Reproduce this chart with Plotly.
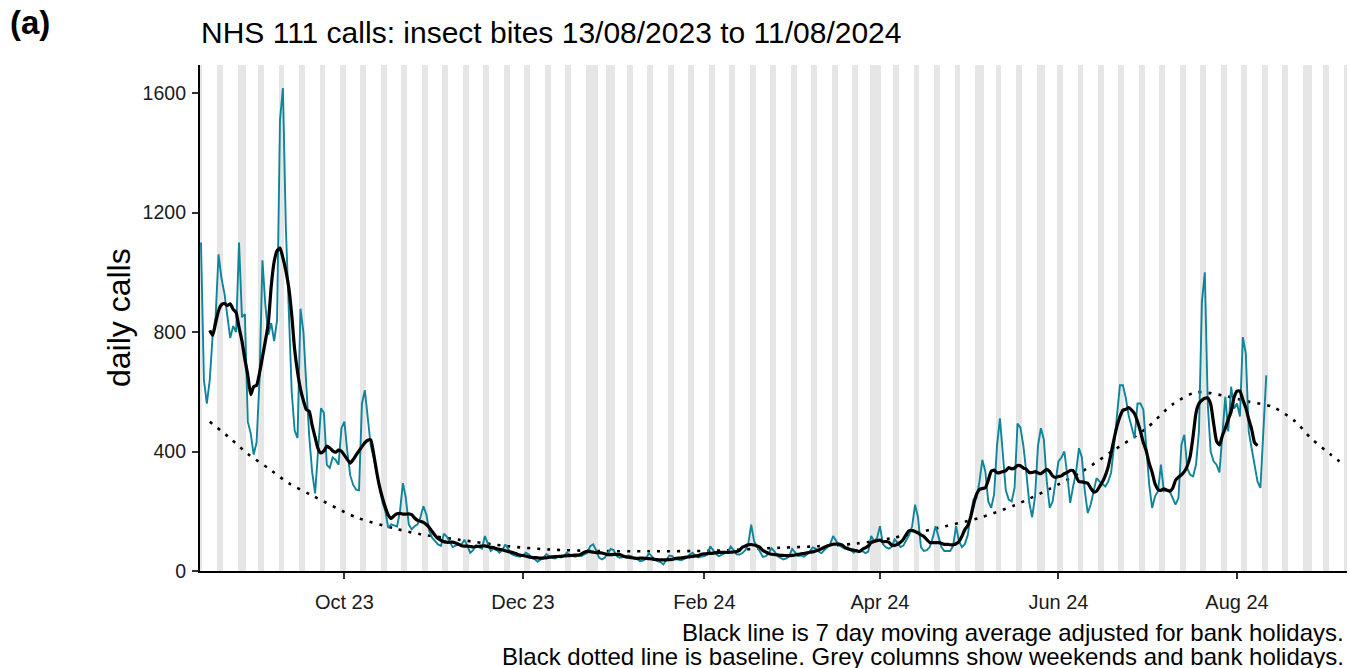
import datetime as dt
import pandas as pd
import plotly.graph_objects as go

# ---------------- data ----------------
start_date = "2023-08-13"
daily_calls = [
    1100, 640, 560, 640, 790, 850, 1060,
    980, 930, 850, 780, 820, 800, 1100,
    850, 860, 500, 460, 390, 430, 640,
    1040, 890, 790, 830, 770, 840, 1510,
    1617, 1150, 850, 600, 470, 445, 878,
    800, 620, 450, 330, 260, 400, 545,
    530, 355, 345, 380, 372, 356, 478,
    500, 400, 320, 289, 272, 270, 560,
    605, 500, 420, 380, 330, 280, 230,
    200, 144, 156, 152, 149, 200, 294,
    244, 156, 139, 150, 156, 180, 217,
    189, 135, 111, 100, 89, 84, 125,
    115, 95, 80, 85, 90, 88, 105,
    85, 61, 70, 86, 80, 75, 117,
    90, 67, 75, 70, 61, 70, 89,
    75, 57, 52, 50, 48, 52, 61,
    55, 44, 40, 31, 38, 45, 56,
    50, 44, 42, 48, 45, 50, 61,
    55, 50, 48, 52, 50, 55, 61,
    83, 89, 70, 45, 39, 45, 60,
    74, 70, 50, 44, 45, 48, 52,
    50, 44, 40, 33, 35, 40, 59,
    50, 38, 33, 30, 22, 35, 52,
    50, 40, 38, 36, 40, 45, 55,
    61, 50, 45, 48, 50, 55, 83,
    70, 56, 50, 55, 60, 62, 82,
    70, 56, 55, 60, 70, 90, 155,
    100, 82, 64, 47, 50, 60, 76,
    65, 50, 45, 39, 42, 50, 74,
    60, 50, 52, 48, 55, 65, 79,
    75, 65, 60, 70, 80, 90, 117,
    103, 86, 80, 75, 80, 70, 61,
    70, 65, 67, 60, 65, 117, 100,
    110, 150, 90, 80, 75, 80, 106,
    95, 80, 85, 106, 122, 150, 222,
    180, 80, 67, 70, 80, 110, 150,
    110, 80, 67, 67, 67, 84, 150,
    100, 80, 90, 120, 190, 240, 244,
    300, 372, 333, 233, 211, 256, 420,
    511, 400, 270, 239, 233, 278, 494,
    480, 420, 330, 230, 180, 250, 420,
    478, 440, 300, 211, 233, 300, 367,
    380, 400, 322, 228, 283, 330, 411,
    380, 267, 194, 222, 270, 311, 300,
    290, 283, 300, 330, 422, 520, 622,
    622, 580, 520, 480, 444, 561, 561,
    540, 400, 289, 211, 250, 267, 356,
    267, 272, 267, 244, 222, 244, 422,
    456, 344, 322, 317, 356, 467, 900,
    1000, 560, 400, 367, 356, 330, 450,
    583, 467, 617, 544, 561, 517, 783,
    728, 467, 411, 356, 300, 278, 470,
    655,
]

baseline_dates = [
    "2023-08-16", "2023-08-23", "2023-08-29", "2023-09-05", "2023-09-12",
    "2023-09-20", "2023-10-05", "2023-10-18", "2023-10-27", "2023-11-09",
    "2023-11-26", "2023-12-10", "2023-12-27", "2024-01-13", "2024-02-04",
    "2024-02-27", "2024-03-11", "2024-03-24", "2024-04-05", "2024-04-19",
    "2024-05-05", "2024-05-17", "2024-05-29", "2024-06-09", "2024-06-20",
    "2024-07-01", "2024-07-10", "2024-07-18", "2024-07-27", "2024-08-05",
    "2024-08-13", "2024-08-21", "2024-08-26", "2024-09-02", "2024-09-05",
]
baseline_values = [
    500, 444, 392, 344, 294,
    253, 180, 143, 123, 105,
    83, 72, 67, 66, 68,
    78, 83, 92, 110, 140,
    178, 220, 275, 333, 405,
    477, 558, 598, 588, 567,
    550, 500, 447, 390, 367,
]

bank_holidays = [
    "2023-08-28", "2023-12-25", "2023-12-26", "2024-01-01", "2024-03-29",
    "2024-04-01", "2024-05-06", "2024-05-27", "2024-08-26",
]

shade_start = "2023-08-13"
shade_end = "2024-09-08"

tick_dates = ["2023-10-01", "2023-12-01", "2024-02-01", "2024-04-01", "2024-06-01", "2024-08-01"]
tick_labels = ["Oct 23", "Dec 23", "Feb 24", "Apr 24", "Jun 24", "Aug 24"]
y_ticks = [0, 400, 800, 1200, 1600]

title_text = "NHS 111 calls: insect bites 13/08/2023 to 11/08/2024"
caption_1 = "Black line is 7 day moving average adjusted for bank holidays."
caption_2 = "Black dotted line is baseline. Grey columns show weekends and bank holidays."

# ---------------- derived ----------------
dates = pd.date_range(start_date, periods=len(daily_calls), freq="D")
series = pd.Series(daily_calls, index=dates, dtype=float)
moving_avg = series.rolling(7, center=True).mean()

# grey columns: runs of consecutive weekend / bank holiday days
bh = set(pd.to_datetime(bank_holidays))
all_days = pd.date_range(shade_start, shade_end, freq="D")
shaded = [d for d in all_days if d.weekday() >= 5 or d in bh]
runs = []
for d in shaded:
    if runs and (d - runs[-1][-1]).days == 1:
        runs[-1].append(d)
    else:
        runs.append([d])
DAY_MS = 86400000
col_x = [r[0] + (r[-1] - r[0]) / 2 for r in runs]
col_w = [len(r) * DAY_MS for r in runs]

Y_MAX = 1694

FONT = "Liberation Sans, Arial, Helvetica, sans-serif"
TEAL = "#10849a"
GREY_COL = "#e6e6e6"

fig = go.Figure()
fig.add_trace(go.Bar(
    x=col_x, y=[Y_MAX * 2] * len(col_x), width=col_w,
    marker=dict(color=GREY_COL, line=dict(width=0)),
    hoverinfo="skip", showlegend=False,
))
fig.add_trace(go.Scatter(
    x=pd.to_datetime(baseline_dates), y=baseline_values, mode="lines",
    line=dict(color="black", width=2.6, dash="3px,7px", shape="spline", smoothing=0.8),
    showlegend=False, hoverinfo="skip",
))
fig.add_trace(go.Scatter(
    x=dates, y=series.values, mode="lines",
    line=dict(color=TEAL, width=1.9), showlegend=False,
))
fig.add_trace(go.Scatter(
    x=dates, y=moving_avg.values, mode="lines",
    line=dict(color="black", width=3.2, shape="spline", smoothing=0.5),
    showlegend=False,
))

# plot area geometry in pixels
W, H = 1350, 668
L, R, T, B = 200, 1347, 65, 571
PW, PH = R - L, B - T


def px(x):
    return (x - L) / PW


def py(y):
    return (B - y) / PH


x_lo = pd.Timestamp(start_date) - pd.Timedelta(hours=8)
x_hi = pd.Timestamp("2024-09-07 14:00")

fig.update_layout(
    width=W, height=H,
    margin=dict(l=L, r=W - R, t=T, b=H - B, pad=0),
    paper_bgcolor="white", plot_bgcolor="white",
    bargap=0, barmode="overlay",
    font=dict(family=FONT, color="black"),
    xaxis=dict(
        type="date", range=[x_lo, x_hi],
        tickmode="array", tickvals=pd.to_datetime(tick_dates), ticktext=tick_labels,
        showline=True, linecolor="black", linewidth=2.2,
        ticks="outside", ticklen=6, tickwidth=2, tickcolor="#333333",
        tickfont=dict(size=20, color="#1a1a1a", family=FONT),
        ticklabelstandoff=6,
        showgrid=False, zeroline=False,
    ),
    yaxis=dict(
        range=[0, Y_MAX],
        tickmode="array", tickvals=y_ticks, ticktext=[str(v) for v in y_ticks],
        showline=True, linecolor="black", linewidth=2.2,
        ticks="outside", ticklen=6, tickwidth=2, tickcolor="#333333",
        tickfont=dict(size=19.5, color="#1a1a1a", family=FONT),
        ticklabelstandoff=2,
        showgrid=False, zeroline=False,
    ),
    annotations=[
        dict(text="<b>(a)</b>", x=px(8), y=py(22), xref="paper", yref="paper",
             xanchor="left", yanchor="middle", showarrow=False,
             font=dict(size=33, family=FONT, color="black")),
        dict(text=title_text, x=px(199), y=py(33), xref="paper", yref="paper",
             xanchor="left", yanchor="middle", showarrow=False,
             font=dict(size=30, family=FONT, color="black")),
        dict(text="daily calls", x=px(119), y=py(318), xref="paper", yref="paper",
             xanchor="center", yanchor="middle", showarrow=False, textangle=-90,
             font=dict(size=32, family=FONT, color="black")),
        dict(text=caption_1, x=px(1346), y=py(632), xref="paper", yref="paper",
             xanchor="right", yanchor="middle", showarrow=False,
             font=dict(size=24, family=FONT, color="black")),
        dict(text=caption_2, x=px(1346), y=py(656), xref="paper", yref="paper",
             xanchor="right", yanchor="middle", showarrow=False,
             font=dict(size=24, family=FONT, color="black")),
    ],
)

fig.write_html("out.html", config={"displayModeBar": False})

# remove the default page margin so the figure sits at the window's top-left
with open("out.html", "r", encoding="utf-8") as fh:
    html = fh.read()
html = html.replace("<body>", '<body style="margin:0;padding:0;overflow:hidden;">', 1)
with open("out.html", "w", encoding="utf-8") as fh:
    fh.write(html)
